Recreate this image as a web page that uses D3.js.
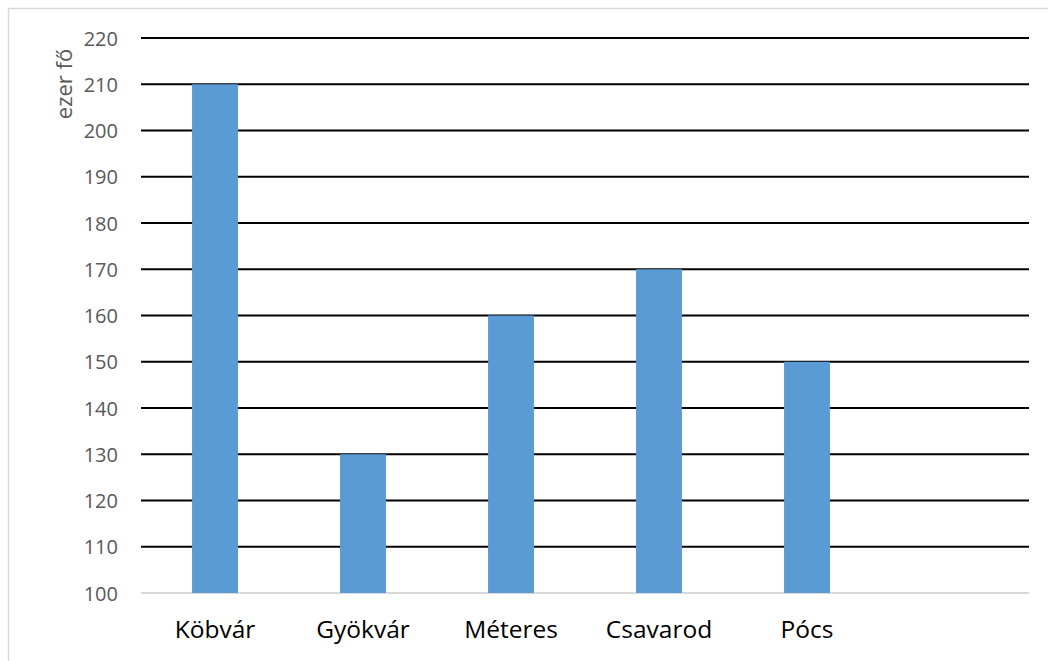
<!DOCTYPE html>
<html><head><meta charset="utf-8">
<script src="https://cdn.jsdelivr.net/npm/d3@7"></script>
<style>html,body{margin:0;padding:0;background:#fff;}</style>
</head><body>
<svg id="c" width="1048" height="661"></svg>
<script>
const categories = ["Köbvár","Gyökvár","Méteres","Csavarod","Pócs",""];
const values = [210,130,160,170,150,null];
const yTicks = [100,110,120,130,140,150,160,170,180,190,200,210,220];
const yTitle = "ezer fő";

const svg = d3.select("#c");
const font = "'Open Sans', sans-serif";
svg.append("rect").attr("x",8.5).attr("y",8.5).attr("width",1100).attr("height",700)
  .attr("fill","#fff").attr("stroke","#d9d9d9").attr("stroke-width",1.5);

const L=141,R=1029,T=38,B=593;
const x = d3.scaleBand().domain(categories.map((c,i)=>i)).range([L,R]).paddingInner(0.69).paddingOuter(0.345);
const y = d3.scaleLinear().domain([100,220]).range([B,T]);

const g = svg.append("g");
g.selectAll(".grid").data(yTicks.filter(t=>t>100)).enter().append("line")
  .attr("x1",L).attr("x2",R).attr("y1",d=>y(d)).attr("y2",d=>y(d))
  .attr("stroke","#000").attr("stroke-width",2);
g.append("line").attr("x1",L).attr("x2",R).attr("y1",y(100)).attr("y2",y(100))
  .attr("stroke","#d9d9d9").attr("stroke-width",2);

g.selectAll(".bar").data(values.map((v,i)=>({v,i})).filter(d=>d.v!=null)).enter().append("rect")
  .attr("x",d=>x(d.i)).attr("width",x.bandwidth())
  .attr("y",d=>y(d.v)).attr("height",d=>y(100)-y(d.v))
  .attr("fill","#5b9bd5");

const yAxis = d3.axisLeft(y).tickValues(yTicks).tickSize(0).tickPadding(0);
const ya = svg.append("g").attr("transform",`translate(${L-23},0)`).call(yAxis);
ya.select(".domain").remove();
ya.selectAll("text").attr("font-family",font).attr("font-size",20).attr("fill","#595959").attr("dy","0.36em");

const xAxis = d3.axisBottom(x).tickFormat(i=>categories[i]).tickSize(0).tickPadding(0);
const xa = svg.append("g").attr("transform",`translate(0,${B})`).call(xAxis);
xa.select(".domain").remove();
xa.selectAll("text").attr("font-family",font).attr("font-size",24.5).attr("fill","#000")
  .attr("y",45).attr("dy",null);

svg.append("text").attr("transform","translate(72,84) rotate(-90)")
  .attr("text-anchor","middle").attr("font-family",font).attr("font-size",22)
  .attr("fill","#595959").text(yTitle);
</script>
</body></html>
